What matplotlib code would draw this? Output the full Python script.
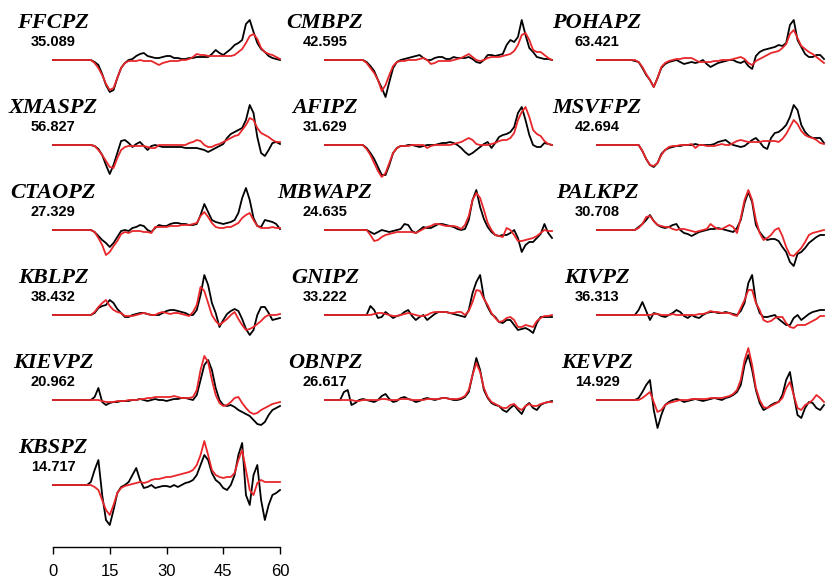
import numpy as np
import matplotlib
matplotlib.use('Agg')
import matplotlib.pyplot as plt

# time axis, seconds (one sample per second)
t = np.arange(0, 61)

stations = ['FFCPZ', 'CMBPZ', 'POHAPZ',
            'XMASPZ', 'AFIPZ', 'MSVFPZ',
            'CTAOPZ', 'MBWAPZ', 'PALKPZ',
            'KBLPZ', 'GNIPZ', 'KIVPZ',
            'KIEVPZ', 'OBNPZ', 'KEVPZ',
            'KBSPZ']
misfits = ['35.089', '42.595', '63.421',
           '56.827', '31.629', '42.694',
           '27.329', '24.635', '30.708',
           '38.432', '33.222', '36.313',
           '20.962', '26.617', '14.929',
           '14.717']
timeTicks = [0, 15, 30, 45, 60]

ffcpz_obs = [0, 0, 0, 0, 0, 0, 0, 0, 0, 0, 0,
             -2, -5, -14, -25, -32, -30, -18, -8, -3, 0,
             1, 4, 6, 7, 4, 3, 2, 2, 3, 4,
             4, 2, 2, 1, 1, 2, 2, 3, 3, 3,
             3, 6, 10, 7, 5, 8, 11, 15, 17, 20,
             36, 40, 28, 17, 11, 8, 4, 2, 1, 0]
ffcpz_syn = [0, 0, 0, 0, 0, 0, 0, 0, 0, 0, 0,
             -3, -8, -15, -24, -30, -28, -18, -8, -3, -1,
             -1, -1, 0, -1, -1, -1, -3, -5, -3, -2,
             -1, -1, -1, 0, 0, 1, 3, 6, 5, 5,
             4, 4, 4, 4, 4, 4, 4, 5, 8, 11,
             17, 24, 26, 21, 12, 8, 6, 5, 3, 1]

cmbpz_obs = [0, 0, 0, 0, 0, 0, 0, 0, 0, 0, 0,
             -2, -6, -11, -20, -28, -37, -22, -8, -2, 0,
             1, 2, 3, 4, 5, 2, 0, 0, 2, 3,
             3, 1, 1, 3, 2, 2, 2, 3, 1, -2,
             -3, 0, 5, 5, 4, 5, 6, 15, 20, 18,
             23, 40, 25, 12, 8, 3, 2, 1, 1, 0]
cmbpz_syn = [0, 0, 0, 0, 0, 0, 0, 0, 0, 0, 0,
             -3, -8, -13, -20, -31, -25, -15, -6, -2, -1,
             -1, 0, 0, 0, 1, 2, 0, -4, -3, -1,
             -1, -1, -1, 0, 1, 2, 4, 6, 3, 0,
             -1, 0, 2, 3, 3, 3, 4, 5, 6, 9,
             15, 25, 27, 20, 10, 8, 8, 5, 2, 0]

pohapz_obs = [0, 0, 0, 0, 0, 0, 0, 0, 0, 0,
              -1, -2, -8, -15, -20, -27, -18, -8, -4, -2,
              -1, 0, -2, -4, -3, -2, -3, -2, 0, -4,
              -7, -5, -3, -2, -1, 0, 0, -2, -3, -1,
              -6, -9, 4, 8, 10, 11, 12, 13, 15, 14,
              17, 35, 40, 20, 13, 6, 3, 3, 5, 5, 1]
pohapz_syn = [0, 0, 0, 0, 0, 0, 0, 0, 0, 0, 0,
              -2, -7, -14, -20, -27, -18, -7, -3, -1, 0,
              1, 1, 2, 2, 2, 0, -2, -2, -2, -2,
              -1, -1, 0, 0, 0, 1, 2, 3, 1, -3,
              -5, -1, 1, 3, 5, 7, 8, 9, 12, 16,
              26, 30, 22, 14, 11, 8, 6, 3, 0, -3]

xmaspz_obs = [0, 0, 0, 0, 0, 0, 0, 0, 0, 0, 0,
              -1, -4, -10, -20, -29, -20, -8, 4, 5, 2,
              -2, 1, 3, -1, -5, -1, 0, -1, -2, -2,
              -2, -2, -2, -2, -3, -3, -3, -3, -4, -5,
              -7, -5, -3, -1, 1, 7, 11, 13, 15, 17,
              25, 40, 32, 8, -8, -11, -5, 2, 3, 1]
xmaspz_syn = [0, 0, 0, 0, 0, 0, 0, 0, 0, 0, 0,
              -1, -5, -10, -16, -22, -23, -13, -5, -2, -1,
              -1, -1, -1, -1, -2, -3, -3, 0, 0, 0,
              0, 0, 0, 0, 0, 2, 3, 5, 4, 0,
              -2, -2, 0, 1, 3, 5, 7, 9, 10, 15,
              20, 27, 25, 17, 12, 10, 8, 5, 3, 3]

afipz_obs = [0, 0, 0, 0, 0, 0, 0, 0, 0, 0, 0,
             -3, -8, -14, -22, -30, -30, -20, -8, -3, -1,
             -1, 0, 0, -1, -2, -1, 0, 0, 0, 1,
             2, 2, 3, 2, 0, -3, -7, -10, -8, -5,
             -2, 1, 3, -3, 2, 8, 10, 11, 13, 18,
             32, 38, 25, 10, 0, -2, -2, 2, 1, 0]
afipz_syn = [0, 0, 0, 0, 0, 0, 0, 0, 0, 0, 0,
             -4, -10, -18, -26, -32, -28, -18, -8, -3, -1,
             -1, -1, 0, 0, 0, 0, -3, -1, 0, 0,
             0, 0, 0, 1, 2, 3, 5, 7, 5, 1,
             0, 0, 0, 1, 2, 4, 5, 5, 7, 12,
             25, 33, 38, 28, 15, 11, 9, 4, 1, 0]

msvfpz_obs = [0, 0, 0, 0, 0, 0, 0, 0, 0, 0, 0, 0,
              -6, -14, -20, -22, -18, -9, -5, -3, -2, -1,
              -1, 0, 0, 0, 1, 0, 0, 0, 0, 1,
              3, 4, 5, 2, 0, -1, -2, -1, 2, 5,
              7, 3, -2, -4, 7, 12, 13, 16, 20, 28,
              40, 35, 20, 13, 9, 7, 7, 7, 2]
msvfpz_syn = [0, 0, 0, 0, 0, 0, 0, 0, 0, 0, 0, 0,
              -6, -14, -20, -21, -18, -10, -5, -2, -1, -1,
              0, 0, 0, 1, -3, 0, 0, -1, -1, -1,
              0, 1, 0, 0, 2, 4, 5, 4, 3, 3,
              3, 3, 4, 4, 4, 4, 3, 6, 11, 18,
              25, 21, 14, 10, 8, 7, 5, 2, 1]

ctaopz_obs = [0, 0, 0, 0, 0, 0, 0, 0, 0, 0, 0,
              -2, -6, -10, -13, -17, -13, -7, -1, 0, -1,
              2, 3, 5, 4, 0, -2, 2, 5, 4, 4,
              6, 7, 7, 6, 6, 5, 5, 6, 15, 26,
              18, 10, 8, 7, 6, 7, 8, 10, 17, 32,
              42, 30, 12, 4, 3, 10, 9, 8, 6, 1]
ctaopz_syn = [0, 0, 0, 0, 0, 0, 0, 0, 0, 0, 0,
              -2, -8, -15, -25, -22, -16, -11, -4, -2, -3,
              -1, -1, -1, -2, -2, -3, 3, 3, 3, 3,
              4, 4, 4, 5, 5, 5, 6, 7, 14, 18,
              13, 7, 3, 2, 2, 3, 3, 5, 7, 12,
              15, 17, 10, 4, 2, 2, 2, 3, 2, 2]

mbwapz_obs = [0, 0, 0, 0, 0, 0, 0, 0, 0, 0, 0, 0,
              -2, -4, -2, 0, -1, -2, -1, 0, 1, 6,
              5, -1, -3, 0, 3, 2, 2, 4, 6, 6,
              5, 4, 3, 1, 0, 1, 10, 30, 40, 23,
              11, 3, -2, -5, -6, -5, -5, -3, 0, -8,
              -22, -15, -12, -12, -8, -4, 6, -3, -8]
mbwapz_syn = [0, 0, 0, 0, 0, 0, 0, 0, 0, 0, 0, 0,
              -5, -11, -10, -7, -5, -4, -3, -2, -2, -2,
              -2, -2, -3, -1, 1, 3, 4, 6, 6, 5,
              4, 4, 4, 3, 1, 5, 14, 30, 37, 32,
              20, 7, 0, -5, -6, -7, 2, 0, -5, -11,
              -11, -10, -9, -8, -6, -3, 0, -1, -1]

palkpz_obs = [0, 0, 0, 0, 0, 0, 0, 0, 0, 0, 0,
              3, 6, 10, 15, 9, 5, 3, 2, 3, 5,
              6, 0, -3, -4, -6, -4, -2, -1, 0, 1,
              1, 2, 1, 0, -1, -2, 2, 10, 27, 38,
              28, 5, -2, -7, -10, -9, -9, -11, -17, -22,
              -32, -36, -24, -22, -18, -13, -10, -7, -5, -5]
palkpz_syn = [0, 0, 0, 0, 0, 0, 0, 0, 0, 0, 0,
              2, 6, 13, 14, 9, 5, 4, 3, 3, 1,
              0, 1, 1, 0, -1, -2, -1, 0, 1, 6,
              3, 1, 1, 3, 5, 3, -3, 12, 30, 40,
              30, 10, -3, -10, -8, -5, 0, 2, -6, -17,
              -25, -26, -22, -18, -12, -5, -3, -2, -1, 0]

kblpz_obs = [0, 0, 0, 0, 0, 0, 0, 0, 0, 0, 0,
             2, 7, 9, 10, 15, 12, 6, 2, -2, -2,
             0, 1, 2, 2, 1, 0, 0, 0, 2, 4,
             5, 5, 4, 3, 2, 0, 0, 5, 20, 40,
             30, 12, 2, -12, -5, 1, 4, 6, 4, -4,
             -14, -20, -15, 0, 8, 8, 2, -5, -4, -3]
kblpz_syn = [0, 0, 0, 0, 0, 0, 0, 0, 0, 0, 0,
             3, 8, 12, 15, 9, 5, 3, 2, -1, -1,
             -1, 0, 1, 2, 1, 0, 0, 2, 3, 2,
             1, 2, 2, 1, 0, -1, 3, 10, 28, 24,
             12, 0, -6, -10, -7, -4, 0, 3, -4, -10,
             -15, -14, -12, -9, -6, -2, 0, 0, 0, 1]

gnipz_obs = [0, 0, 0, 0, 0, 0, 0, 0, 0, 0, 0, 0,
             9, 5, -3, -2, 3, 0, -3, -1, 0, 3,
             5, -1, -5, -2, 0, -5, -2, 1, 3, 3,
             3, 2, 1, 0, -1, -2, 5, 22, 33, 40,
             17, 8, 1, -2, -7, -8, -5, -5, -10, -15,
             -14, -13, -15, -18, -8, -2, -2, -2, -2]
gnipz_syn = [0, 0, 0, 0, 0, 0, 0, 0, 0, 0, 0, 0,
             0, 1, 2, 2, 1, 0, -1, -1, 0, 1,
             2, 1, 0, -1, -1, 0, 2, 3, 3, 3,
             3, 2, 2, 3, 3, 0, 4, 13, 25, 24,
             16, 10, 2, -3, -7, -6, -3, -2, -5, -12,
             -12, -10, -11, -12, -6, -3, -1, -1, 0]

kivpz_obs = [0, 0, 0, 0, 0, 0, 0, 0, 0, 0, 0,
             5, 13, 4, -5, 2, 1, -1, -2, 0, 2,
             5, 3, -1, -3, 0, -2, -3, 0, 2, 3,
             3, 2, 2, 3, 2, 1, 0, 4, 12, 32,
             40, 13, 2, -2, -2, -1, 0, -4, -7, -10,
             -10, -3, 0, -5, -2, 1, 3, 4, 5, 5]
kivpz_syn = [0, 0, 0, 0, 0, 0, 0, 0, 0, 0, 0, 0, 0, 0, 0,
             1, 1, 0, 0, 0, 1, 0, 0, 0, 0,
             0, 0, 1, 1, 2, 4, 3, 3, 2, 2,
             2, 0, -1, 7, 15, 25, 25, 12, 5, -5,
             -7, -6, -3, -2, -2, -8, -12, -13, -10, -10,
             -10, -8, -6, -4, -1, -1]

kievpz_obs = [0, 0, 0, 0, 0, 0, 0, 0, 0, 0, 0,
              3, 12, -2, -5, -3, -2, -2, -1, -1, -1,
              0, 0, 1, 0, -1, 0, 1, 0, 0, -1,
              0, 1, 1, 2, 2, 1, 0, 5, 20, 35,
              40, 30, 12, 0, -5, -6, -5, -7, -10, -12,
              -14, -16, -20, -24, -25, -22, -15, -10, -8, -6]
kievpz_syn = [0, 0, 0, 0, 0, 0, 0, 0, 0, 0, 0,
              0, 0, -1, -2, -2, -2, -1, -1, -1, 0,
              0, 0, 1, 1, 2, 2, 3, 3, 3, 3,
              3, 4, 3, 2, 2, 2, 3, 10, 30, 44,
              38, 20, 5, -3, -6, -5, -2, 2, 3, -3,
              -8, -12, -14, -13, -10, -8, -6, -4, -3, -2]

obnpz_obs = [0, 0, 0, 0, 0,
             8, 10, -5, -3, 0, 1, 0, -1, -2, 0,
             4, 6, 1, -2, -1, 2, 3, 1, 0, -2,
             -1, 1, 2, 1, 0, 1, 2, 2, 1, 0,
             0, 1, 3, 8, 25, 42, 30, 10, 2, -3,
             -5, -6, -10, -12, -8, -5, -10, -14, -6, -3,
             -8, -10, -5, -3, -2, -1]
obnpz_syn = [0, 0, 0, 0, 0,
             0, 0, 0, -1, -1, 0, 0, 0, 0, 0,
             1, 1, 0, 0, 0, 1, 1, 1, 0, 0,
             0, 0, 1, 1, 1, 1, 2, 2, 1, 1,
             1, 2, 4, 10, 25, 37, 28, 12, 3, -2,
             -4, -6, -8, -8, -5, -4, -8, -10, -6, -4,
             -6, -6, -4, -3, -2, -2]

kevpz_obs = [0, 0, 0, 0, 0, 0, 0, 0, 0, 0, 0,
             2, 8, 15, 20, -10, -28, -15, -5, -2, 0,
             1, 0, -2, -1, 0, 1, 0, -1, 0, 1,
             2, 1, 0, 2, 3, 5, 8, 15, 35, 45,
             30, 10, -3, -10, -8, -5, -3, -2, 5, 20,
             28, 5, -15, -18, -8, -2, -3, -8, -10, -5]
kevpz_syn = [0, 0, 0, 0, 0, 0, 0, 0, 0, 0, 0,
             0, 2, 5, 8, -2, -12, -10, -5, -3, -2,
             -1, 0, 0, 0, 1, 1, 1, 1, 1, 2,
             2, 2, 2, 3, 4, 6, 10, 20, 40, 52,
             35, 12, 0, -7, -8, -6, -4, -2, 2, 12,
             18, 5, -8, -10, -5, -3, 0, 5, 2, -2]

kbspz_obs = [0, 0, 0, 0, 0, 0, 0, 0, 0, 0,
             3, 15, 25, -10, -35, -40, -25, -8, -2, 0,
             3, 10, 17, 5, -3, -2, 0, -3, -2, -1,
             -1, -2, 0, -2, 0, 2, 3, 5, 10, 20,
             30, 25, 12, 5, 2, -3, -5, 0, 10, 30,
             42, -10, -20, 10, 20, -15, -35, -20, -10, -8, -5]
kbspz_syn = [0, 0, 0, 0, 0, 0, 0, 0, 0, 0,
             0, -2, -5, -15, -25, -30, -20, -8, -3, -1,
             0, 1, 2, 3, 2, 3, 5, 6, 6, 7,
             8, 8, 9, 10, 11, 12, 13, 15, 20, 30,
             44, 30, 15, 10, 8, 7, 8, 8, 12, 25,
             35, 15, -5, -10, 2, 5, 3, 3, 3, 3, 3]

traces = [(ffcpz_obs, ffcpz_syn), (cmbpz_obs, cmbpz_syn), (pohapz_obs, pohapz_syn),
          (xmaspz_obs, xmaspz_syn), (afipz_obs, afipz_syn), (msvfpz_obs, msvfpz_syn),
          (ctaopz_obs, ctaopz_syn), (mbwapz_obs, mbwapz_syn), (palkpz_obs, palkpz_syn),
          (kblpz_obs, kblpz_syn), (gnipz_obs, gnipz_syn), (kivpz_obs, kivpz_syn),
          (kievpz_obs, kievpz_syn), (obnpz_obs, obnpz_syn), (kevpz_obs, kevpz_syn),
          (kbspz_obs, kbspz_syn)]

W, H = 832, 582
colStart = [53, 325, 597]      # pixel where t=0 sits in each column
rowBase = [60, 145, 230, 315, 400, 485]   # pixel row of the zero line
SPAN = 227                     # pixels for 60 s
HALF = 55                      # half height of a panel, pixels
RED = '#e8262a'

fig = plt.figure(figsize=(W / 100, H / 100), dpi=100)

for i, name in enumerate(stations):
    row, col = divmod(i, 3)
    x0 = colStart[col]
    y0 = rowBase[row]
    obs, syn = traces[i]
    assert len(obs) == len(t) and len(syn) == len(t), name

    ax = fig.add_axes([x0 / W, (H - y0 - HALF) / H, SPAN / W, 2 * HALF / H])
    ax.plot(t, obs, color='black', lw=1.3, clip_on=False)
    ax.plot(t, syn, color=RED, lw=1.3, clip_on=False)
    ax.set_xlim(0, 60)
    ax.set_ylim(-HALF, HALF)
    ax.axis('off')

    fig.text(x0 / W, (H - y0 + 37) / H, name, ha='center', va='center',
             fontsize=16, fontweight='bold', fontstyle='italic',
             family='Liberation Serif')
    fig.text(x0 / W, (H - y0 + 18) / H, misfits[i], ha='center', va='center',
             fontsize=10.5, fontweight='bold', family='Liberation Sans')

# time scale bar under the first column
axT = fig.add_axes([colStart[0] / W, (H - 547) / H, SPAN / W, 0.001])
axT.set_xlim(0, 60)
axT.set_xticks(timeTicks)
axT.set_yticks([])
for s in ['left', 'right', 'top']:
    axT.spines[s].set_visible(False)
axT.spines['bottom'].set_linewidth(1.0)
axT.tick_params(axis='x', direction='out', length=5, width=1.0, labelsize=12, pad=7)
for lab in axT.get_xticklabels():
    lab.set_family('Liberation Sans')
axT.patch.set_visible(False)

fig.savefig('out.png', dpi=100)
